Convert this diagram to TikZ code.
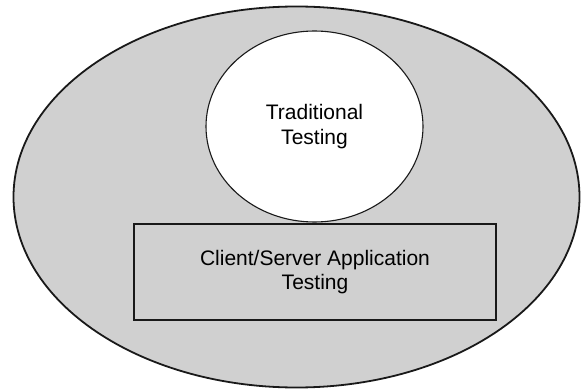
\documentclass[tikz,border=0pt]{standalone}
\usepackage{fontspec}
\setmainfont{Liberation Sans}
\usepackage{xcolor}
\usetikzlibrary{shapes.geometric,positioning}
\definecolor{scopegray}{RGB}{208,208,208}
\tikzset{
  outerell/.style={ellipse, draw=black!90, line width=1.8pt, fill=scopegray, inner sep=0pt},
  tradell/.style={ellipse, draw=black!90, line width=1.1pt, fill=white, inner sep=0pt, align=center},
  csbox/.style={rectangle, draw=black!90, line width=1.5pt, fill=scopegray, inner sep=0pt, align=center},
}

\begin{document}
\begin{tikzpicture}[x=1pt,y=1pt,font=\fontsize{21}{24.5}\selectfont]
  \useasboundingbox (0,0) rectangle (582,389);
  \node[outerell, minimum width=566pt, minimum height=381pt] (outer) at (296.5,192) {};
  \node[tradell, minimum width=217pt, minimum height=191pt] (trad) at (314.5,262.5) {Traditional\\Testing};
  \node[csbox, minimum width=362pt, minimum height=96pt] (cs) at (315,117) {Client/Server Application\\Testing};
\end{tikzpicture}
\end{document}
